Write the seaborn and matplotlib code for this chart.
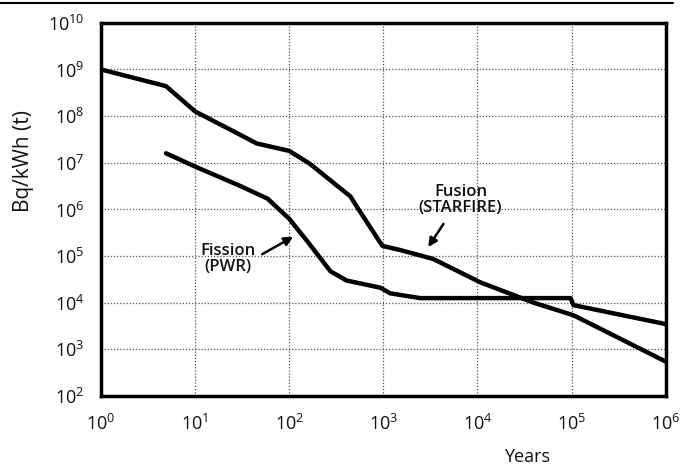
import numpy as np
import pandas as pd
import matplotlib
matplotlib.use('Agg')
import matplotlib.pyplot as plt
import seaborn as sns
from matplotlib.lines import Line2D

# values (years, Bq/kWh)
fusion_years = [1, 4.9, 10, 30, 45, 100, 166, 447, 537, 977, 1510, 3390, 10700, 39800, 105000, 1e6]
fusion_bq = [1.0e9, 4.4e8, 1.26e8, 4.0e7, 2.6e7, 1.8e7, 9.5e6, 1.9e6, 1.05e6, 1.66e5, 1.35e5,
             8.7e4, 2.75e4, 1.0e4, 5.4e3, 5.5e2]

fission_years = [4.9, 10, 30, 59, 100, 155, 275, 407, 933, 1175, 2450, 10700, 97700, 105000, 1e6]
fission_bq = [1.6e7, 8.3e6, 3.2e6, 1.7e6, 6.3e5, 2.1e5, 4.7e4, 3.0e4, 2.1e4, 1.6e4,
              1.26e4, 1.26e4, 1.26e4, 8.9e3, 3.5e3]

x_ticks = [1e0, 1e1, 1e2, 1e3, 1e4, 1e5, 1e6]
y_ticks = [1e2, 1e3, 1e4, 1e5, 1e6, 1e7, 1e8, 1e9, 1e10]

fusion = pd.DataFrame({'years': fusion_years, 'bq': fusion_bq})
fission = pd.DataFrame({'years': fission_years, 'bq': fission_bq})

sns.set_style('white')
plt.rcParams['font.family'] = ['Open Sans', 'DejaVu Sans']

fig = plt.figure(figsize=(6.97, 4.66), dpi=100)
ax = fig.add_axes([0.145, 0.150, 0.810, 0.801])

sns.lineplot(data=fusion, x='years', y='bq', color='black', linewidth=3.2, ax=ax)
sns.lineplot(data=fission, x='years', y='bq', color='black', linewidth=3.2, ax=ax)

ax.set_xscale('log')
ax.set_yscale('log')
ax.set_xlim(1, 1e6)
ax.set_ylim(1e2, 1e10)
ax.set_xticks(x_ticks)
ax.set_yticks(y_ticks)
ax.minorticks_off()
ax.tick_params(length=0, labelsize=13, colors='#111111')
ax.tick_params(axis='x', pad=13)
ax.tick_params(axis='y', pad=12)

ax.grid(True, linestyle=(0, (1, 1.5)), color='#555555', linewidth=0.9)
for s in ax.spines.values():
    s.set_color('black')
    s.set_linewidth(2.5)

ax.set_xlabel('Years', fontsize=13, color='#111111')
ax.xaxis.set_label_coords(0.755, -0.14)
ax.set_ylabel('Bq/kWh (t)', fontsize=15, color='#111111')
ax.yaxis.set_label_coords(-0.118, 0.63)

# labels and arrows
ax.text(6600, 1.6e6, 'Fusion\n(STARFIRE)', ha='center', va='center', fontsize=12,
        fontweight='semibold', linespacing=1.05, color='#111111')
ax.annotate('', xy=(3000, 1.56e5), xytext=(4350, 4.9e5),
            arrowprops=dict(arrowstyle='-|>', color='black', lw=1.8, mutation_scale=13,
                            shrinkA=0, shrinkB=0))
ax.text(22.4, 8.7e4, 'Fission\n(PWR)', ha='center', va='center', fontsize=12,
        fontweight='semibold', linespacing=1.05, color='#111111')
ax.annotate('', xy=(110, 2.6e5), xytext=(51.6, 1.1e5),
            arrowprops=dict(arrowstyle='-|>', color='black', lw=1.8, mutation_scale=13,
                            shrinkA=0, shrinkB=0))

# rule across the top of the scanned page
fig.add_artist(Line2D([0.0, 0.965], [0.993, 0.993], color='black', linewidth=1.5,
                      transform=fig.transFigure))

fig.savefig('out.png', dpi=100)
